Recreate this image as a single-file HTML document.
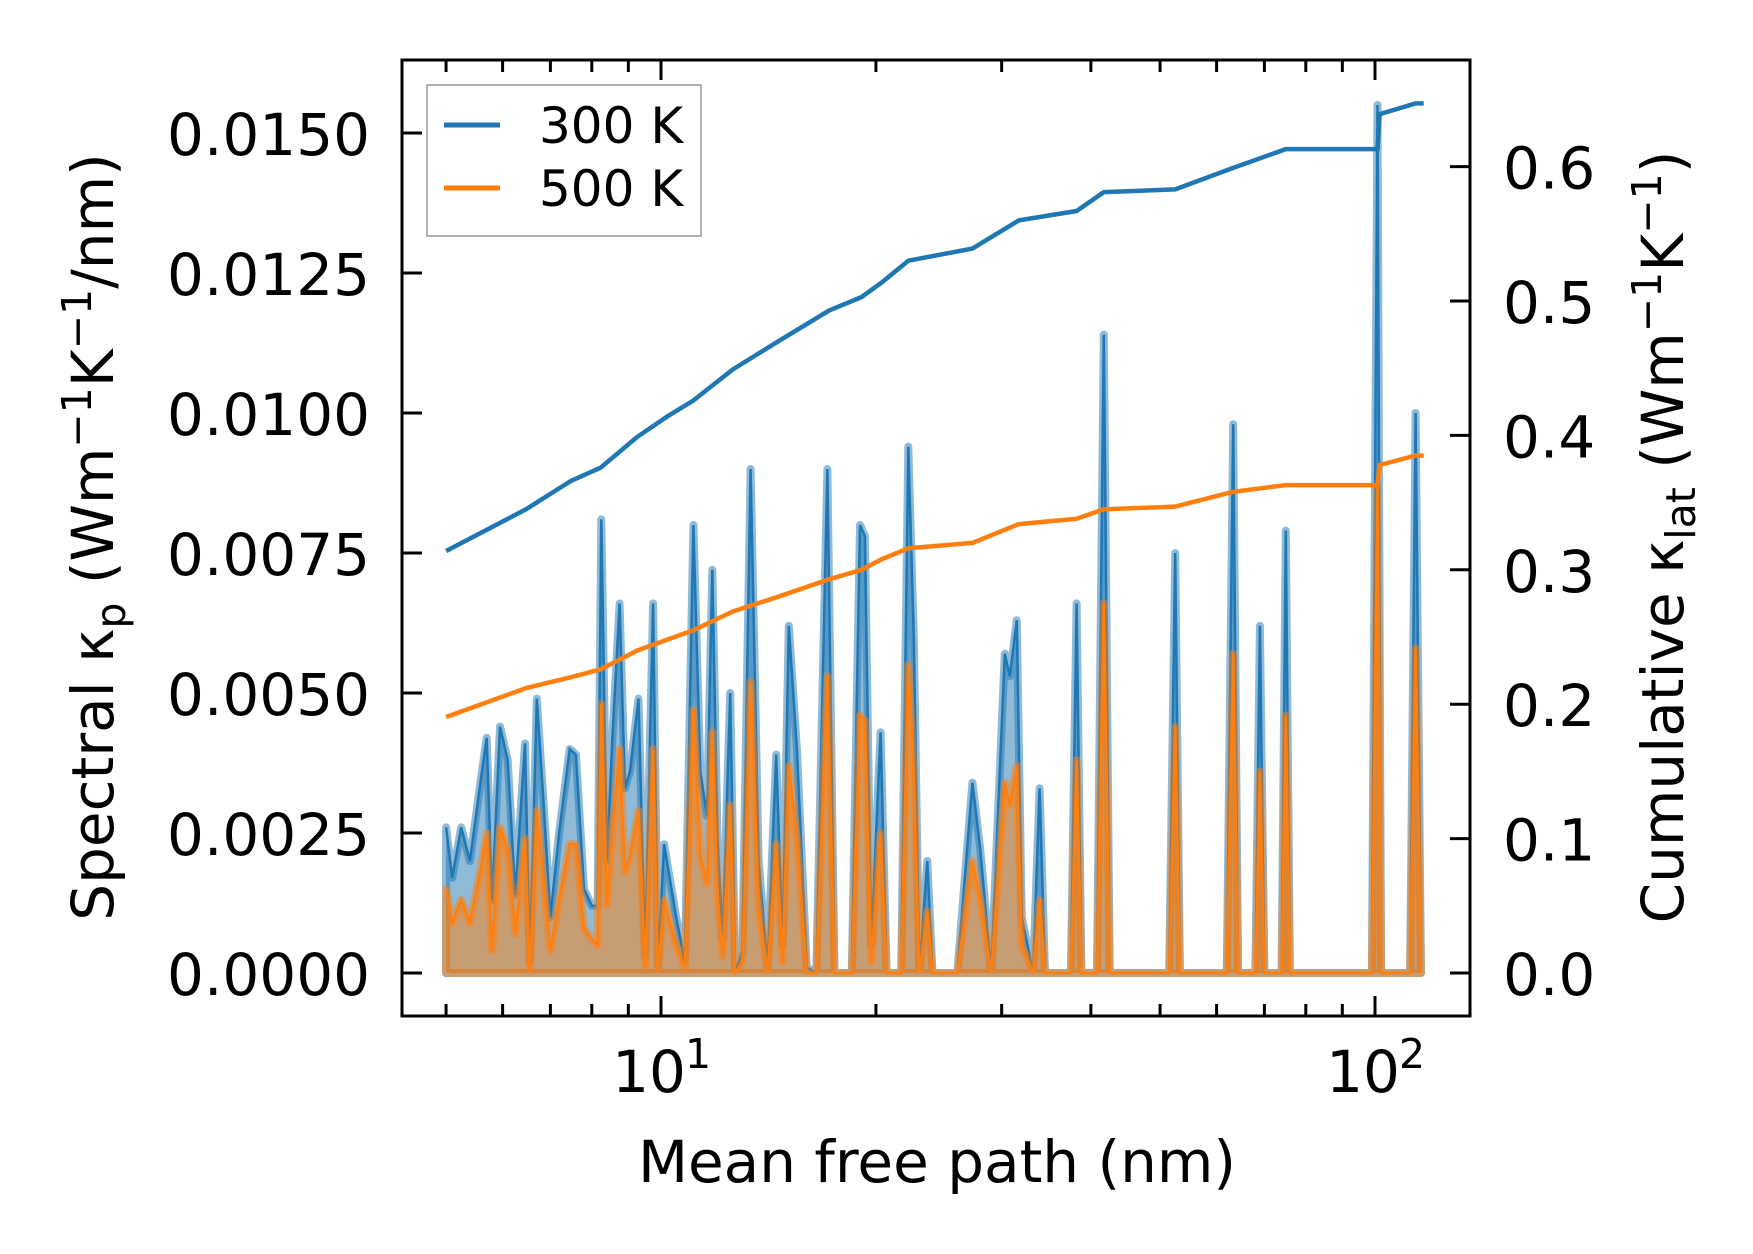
<!DOCTYPE html>
<html><head><meta charset="utf-8">
<style>
html,body{margin:0;padding:0;background:#fff;}
svg{display:block;font-family:"DejaVu Sans","Liberation Sans",sans-serif;}
</style></head>
<body>
<svg id="chart" width="1753" height="1254" viewBox="0 0 1753 1254" xmlns="http://www.w3.org/2000/svg">
<rect width="1753" height="1254" fill="#fff"/>
</svg>
<script>
// ---- data ----
const mfp = [5.0,5.1,5.25,5.4,5.6,5.7,5.8,5.95,6.1,6.25,6.45,6.55,6.7,6.85,7.0,7.2,7.45,7.6,7.8,8.0,8.15,8.25,8.4,8.55,8.75,8.9,9.05,9.3,9.5,9.75,9.9,10.1,10.5,10.8,11.1,11.35,11.6,11.8,12.0,12.2,12.5,12.7,13.0,13.35,13.7,14.1,14.5,14.8,15.1,15.5,16.0,16.5,17.1,17.5,18.5,19.0,19.3,19.7,20.3,20.7,21.7,22.2,22.6,23.0,23.6,24.0,26.0,27.3,28.0,29.0,30.3,30.8,31.5,32.0,33.2,33.9,34.5,37.5,38.2,38.8,40.8,41.7,42.5,51.5,52.5,53.3,62.0,63.3,64.3,68.0,69.0,70.0,74.0,75.0,76.0,99.0,100.8,102.0,112.0,114.0,116.0];
const spec300 = [2.6,1.7,2.6,2.0,3.5,4.2,1.3,4.4,3.8,1.4,4.1,0.2,4.9,3.0,1.0,2.5,4.0,3.9,1.5,1.2,1.2,8.1,2.0,4.2,6.6,3.3,3.6,4.9,0.3,6.6,0.1,2.3,1.0,0.2,8.0,3.6,2.8,7.2,2.4,0.6,5.0,0.0,0.4,9.0,2.0,0.1,3.9,0.5,6.2,4.0,0.1,0.0,9.0,0.0,0.0,8.0,7.8,0.5,4.3,0.0,0.0,9.4,6.0,0.0,2.0,0.0,0.0,3.4,2.2,0.0,5.7,5.3,6.3,1.0,0.0,3.3,0.0,0.0,6.6,0.0,0.0,11.4,0.0,0.0,7.5,0.0,0.0,9.8,0.0,0.0,6.2,0.0,0.0,7.9,0.0,0.0,15.5,0.0,0.0,10.0,0.0];
const spec500 = [1.5,0.9,1.3,0.9,1.9,2.5,0.4,2.6,2.2,0.7,2.4,0.0,2.9,1.6,0.4,1.3,2.3,2.3,0.8,0.6,0.5,4.8,1.2,2.5,4.0,1.8,2.1,2.9,0.1,4.0,0.0,1.3,0.5,0.1,4.7,2.1,1.6,4.3,1.4,0.3,3.0,0.0,0.2,5.2,1.2,0.0,2.3,0.2,3.7,2.4,0.0,0.0,5.3,0.0,0.0,4.6,4.5,0.2,2.5,0.0,0.0,5.5,3.5,0.0,1.1,0.0,0.0,2.0,1.3,0.0,3.4,3.0,3.7,0.5,0.0,1.3,0.0,0.0,3.8,0.0,0.0,6.6,0.0,0.0,4.4,0.0,0.0,5.7,0.0,0.0,3.6,0.0,0.0,4.6,0.0,0.0,8.7,0.0,0.0,5.8,0.0];
const cumX = [5.0,6.47,7.47,8.23,9.27,10.2,11.1,12.6,14.6,17.2,19.1,20.4,22.2,27.3,31.7,38.2,41.7,52.5,63.3,75.0,100.8,101.5,114,117];
const cum300 = [0.314,0.345,0.366,0.376,0.399,0.414,0.426,0.449,0.470,0.493,0.503,0.514,0.530,0.539,0.560,0.567,0.581,0.583,0.599,0.613,0.613,0.639,0.647,0.647];
const cum500 = [0.1905,0.212,0.220,0.226,0.240,0.248,0.255,0.269,0.280,0.293,0.300,0.308,0.316,0.320,0.334,0.338,0.345,0.347,0.358,0.363,0.363,0.378,0.385,0.385];
const leftTicks = [0,0.0025,0.005,0.0075,0.01,0.0125,0.015];
const leftTickLabels = ["0.0000","0.0025","0.0050","0.0075","0.0100","0.0125","0.0150"];
const rightTicks = [0,0.1,0.2,0.3,0.4,0.5,0.6];
const rightTickLabels = ["0.0","0.1","0.2","0.3","0.4","0.5","0.6"];

// ---- layout ----
const L=402,T=60,R=1470,B=1016;
const xs = v => 661 + (Math.log10(v)-1)*714;
const yl = v => 973 - v/0.0025*140;
const yr = v => 973 - v/0.1*134.4;
const NS="http://www.w3.org/2000/svg";
const svg=document.getElementById('chart');
function mk(tag,attrs,parent){const e=document.createElementNS(NS,tag);for(const k in attrs)e.setAttribute(k,attrs[k]);(parent||svg).appendChild(e);return e;}

const plot=mk('g',{});



function areaPath(vals){
  let d='M'+xs(mfp[0])+','+yl(0);
  for(let i=0;i<mfp.length;i++) d+=' L'+xs(mfp[i]).toFixed(1)+','+yl(vals[i]/1000).toFixed(1);
  d+=' L'+xs(mfp[mfp.length-1])+','+yl(0)+' Z';
  return d;
}
function linePath(vals){
  let d='';
  for(let i=0;i<mfp.length;i++) d+=(i?' L':'M')+xs(mfp[i]).toFixed(1)+','+yl(vals[i]/1000).toFixed(1);
  return d;
}
const a3=mk('path',{d:areaPath(spec300),fill:'#1f77b4','fill-opacity':0.5,stroke:'#1f77b4','stroke-opacity':0.5,'stroke-width':8,'stroke-linejoin':'round'},plot);


const l3=mk('path',{d:linePath(spec300),fill:'none',stroke:'#1f77b4','stroke-width':2.5},plot);


const a5=mk('path',{d:areaPath(spec500),fill:'#ff7f0e','fill-opacity':0.5,stroke:'#ff7f0e','stroke-opacity':0.5,'stroke-width':8,'stroke-linejoin':'round'},plot);


const l5=mk('path',{d:linePath(spec500),fill:'none',stroke:'#ff7f0e','stroke-width':2.5},plot);



function cumPath(vals){let d='';for(let i=0;i<cumX.length;i++)d+=(i?' L':'M')+xs(cumX[i]).toFixed(1)+','+yr(vals[i]).toFixed(1);return d;}
const c3=mk('path',{d:cumPath(cum300),fill:'none',stroke:'#1f77b4','stroke-width':4.5,'stroke-linejoin':'round'},plot);


const c5=mk('path',{d:cumPath(cum500),fill:'none',stroke:'#ff7f0e','stroke-width':4.5,'stroke-linejoin':'round'},plot);



// axes frame
const frame=mk('rect',{x:L,y:T,width:R-L,height:B-T,fill:'none',stroke:'#000','stroke-width':3});



// ticks
const tg=mk('g',{stroke:'#000','stroke-width':3});


const lblg=mk('g',{});
for(let i=0;i<leftTicks.length;i++){
  const y=yl(leftTicks[i]);
  mk('line',{x1:L,x2:L+20,y1:y,y2:y},tg);
  const t=mk('text',{x:L-32,y:y+22,'text-anchor':'end','font-size':58,fill:'#000'},lblg);
  t.textContent=leftTickLabels[i];
  
  
}
for(let i=0;i<rightTicks.length;i++){
  const y=yr(rightTicks[i]);
  mk('line',{x1:R-20,x2:R,y1:y,y2:y},tg);
  const t=mk('text',{x:R+33,y:y+22,'text-anchor':'start','font-size':58,fill:'#000'},lblg);
  t.textContent=rightTickLabels[i];
  
  
}
const xmin=Math.pow(10,(L-661)/714+1), xmax=Math.pow(10,(R-661)/714+1);
for(let dec=1;dec<=100;dec*=10){
  for(let m=1;m<10;m++){
    const v=m*dec; if(v<xmin||v>xmax) continue;
    const x=xs(v), len=m===1?20:12;
    mk('line',{x1:x,x2:x,y1:B,y2:B-len},tg);
    mk('line',{x1:x,x2:x,y1:T,y2:T+len},tg);
  }
}
[[10,'1'],[100,'2']].forEach(([v,e])=>{
  const t=mk('text',{x:xs(v)-12,y:1092,'text-anchor':'middle','font-size':58,fill:'#000'},lblg);
  t.textContent='10';
  
  
  const s=mk('text',{x:xs(v)+24,y:1068,'text-anchor':'start','font-size':41,fill:'#000'},lblg);
  s.textContent=e;
});

// axis labels
const xl=mk('text',{x:937,y:1182,'text-anchor':'middle','font-size':58,fill:'#000'});
xl.textContent='Mean free path (nm)';


const ylab=mk('text',{x:0,y:0,'text-anchor':'middle','font-size':58,fill:'#000',transform:'translate(113,537) rotate(-90)'});
ylab.innerHTML='Spectral κ<tspan font-size="41" dy="12">p</tspan><tspan dy="-12"> (Wm</tspan><tspan font-size="41" dy="-22">−1</tspan><tspan dy="22">K</tspan><tspan font-size="41" dy="-22">−1</tspan><tspan dy="22">/nm)</tspan>';


const yr2=mk('text',{x:0,y:0,'text-anchor':'middle','font-size':58,fill:'#000',transform:'translate(1683,537) rotate(-90)'});
yr2.innerHTML='Cumulative κ<tspan font-size="41" dy="12">lat</tspan><tspan dy="-12"> (Wm</tspan><tspan font-size="41" dy="-22">−1</tspan><tspan dy="22">K</tspan><tspan font-size="41" dy="-22">−1</tspan><tspan dy="22">)</tspan>';



// legend
const lg=mk('g',{});


mk('rect',{x:427,y:85,width:274,height:151,fill:'#fff',stroke:'#999','stroke-width':1.5},lg);
const e1=mk('g',{},lg);


mk('line',{x1:444,x2:500,y1:125,y2:125,stroke:'#1f77b4','stroke-width':5},e1);
const t1=mk('text',{x:539,y:143,'font-size':50,fill:'#000'},e1);t1.textContent='300 K';
const e2=mk('g',{},lg);


mk('line',{x1:444,x2:500,y1:188,y2:188,stroke:'#ff7f0e','stroke-width':5},e2);
const t2=mk('text',{x:539,y:206,'font-size':50,fill:'#000'},e2);t2.textContent='500 K';
</script>
</body></html>
